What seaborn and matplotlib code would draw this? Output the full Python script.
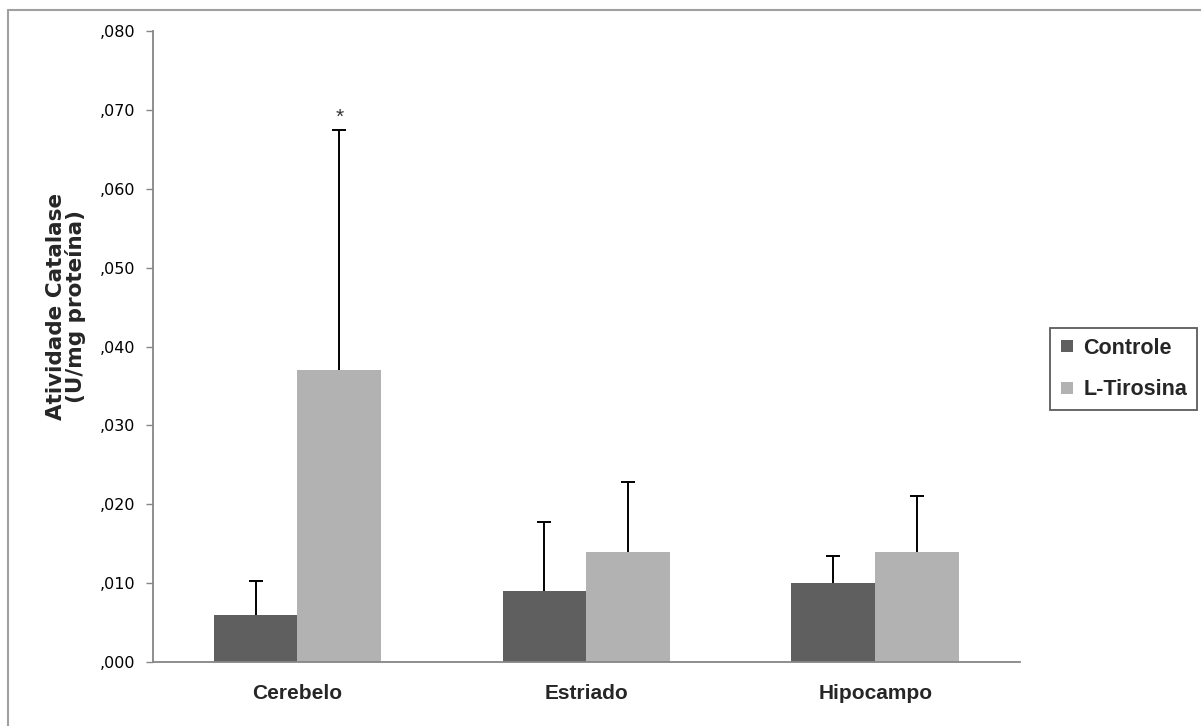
import numpy as np
import pandas as pd
import seaborn as sns
import matplotlib.pyplot as plt
from matplotlib.ticker import FuncFormatter, MultipleLocator
from matplotlib.lines import Line2D

# Values
regions = ['Cerebelo', 'Estriado', 'Hipocampo']
groups = ['Controle', 'L-Tirosina']
controle_mean = [0.0060, 0.0090, 0.0100]
controle_sd = [0.0043, 0.0087, 0.0035]
tirosina_mean = [0.0370, 0.0140, 0.0140]
tirosina_sd = [0.0305, 0.0088, 0.0070]
significant = [False, False, False, True, False, False]  # controle..., tirosina...

df = pd.DataFrame({
    'Regiao': regions * 2,
    'Grupo': [groups[0]] * 3 + [groups[1]] * 3,
    'Atividade': controle_mean + tirosina_mean,
    'SD': controle_sd + tirosina_sd,
})

sns.set_theme(style='white')
plt.rcParams['font.family'] = ['Liberation Sans', 'DejaVu Sans']

fig = plt.figure(figsize=(12.01, 7.26), dpi=100)
ax = fig.add_axes([0.1274, 0.0882, 0.7216, 0.8688])

palette = {'Controle': '#5f5f5f', 'L-Tirosina': '#b2b2b2'}
sns.barplot(data=df, x='Regiao', y='Atividade', hue='Grupo', order=regions,
            hue_order=groups, palette=palette, width=0.58, saturation=1,
            errorbar=None, ax=ax, legend=False, linewidth=0)

# one-sided error bars on top of each bar (patches come in hue order)
for patch, (_, row), star in zip(ax.patches, df.iterrows(), significant):
    xc = patch.get_x() + patch.get_width() / 2
    top = patch.get_height()
    eb = ax.errorbar(xc, top, yerr=[[0], [row['SD']]], fmt='none', ecolor='black',
                     elinewidth=1.4, capsize=5, capthick=1.4, zorder=3)
    eb[1][0].set_visible(False)  # no cap at the bar top
    if star:
        ax.text(xc, top + row['SD'] + 0.0004, '*', ha='center', va='bottom',
                fontsize=15, color='#333333')

ax.set_xlim(-0.5, 2.5)
ax.set_ylim(0, 0.080)
ax.yaxis.set_major_locator(MultipleLocator(0.010))
ax.yaxis.set_major_formatter(FuncFormatter(lambda v, p: f'{v:.3f}'.replace('0.', ',', 1)))

for side in ['top', 'right']:
    ax.spines[side].set_visible(False)
for side in ['left', 'bottom']:
    ax.spines[side].set_color('#868686')
    ax.spines[side].set_linewidth(1.3)

ax.tick_params(axis='y', left=True, length=5, width=1, color='#868686', pad=8)
ax.tick_params(axis='x', bottom=False, pad=10)
for lbl in ax.get_yticklabels():
    lbl.set_fontfamily('DejaVu Sans')
    lbl.set_fontsize(11.5)
    lbl.set_color('black')
for lbl in ax.get_xticklabels():
    lbl.set_fontweight('bold')
    lbl.set_fontsize(15)

ax.set_xlabel('')
ax.set_ylabel('Atividade Catalase\n(U/mg proteína)', fontsize=15.5, family='DejaVu Sans',
              fontweight='bold', linespacing=0.95)
ax.yaxis.set_label_coords(-0.077, 0.563)

handles = [Line2D([], [], marker='s', linestyle='none', markersize=9,
                  markerfacecolor=palette[g], markeredgewidth=0) for g in groups]
leg = fig.legend(handles, groups, loc='upper left', bbox_to_anchor=(0.8743, 0.5482),
                 borderaxespad=0, frameon=True, fancybox=False, handletextpad=0.4,
                 handlelength=0.7, labelspacing=0.95, borderpad=0.45,
                 prop={'weight': 'bold', 'size': 15.5})
leg.get_frame().set_edgecolor('#333333')
leg.get_frame().set_linewidth(1.3)

# chart area border (only top and left visible in the crop)
fig.add_artist(Line2D([8 / 1201, 1], [1 - 10 / 726] * 2, color='#a0a0a0', lw=1.5,
                      transform=fig.transFigure))
fig.add_artist(Line2D([8 / 1201] * 2, [0, 1 - 10 / 726], color='#a0a0a0', lw=1.5,
                      transform=fig.transFigure))

fig.savefig('out.png', dpi=100)
